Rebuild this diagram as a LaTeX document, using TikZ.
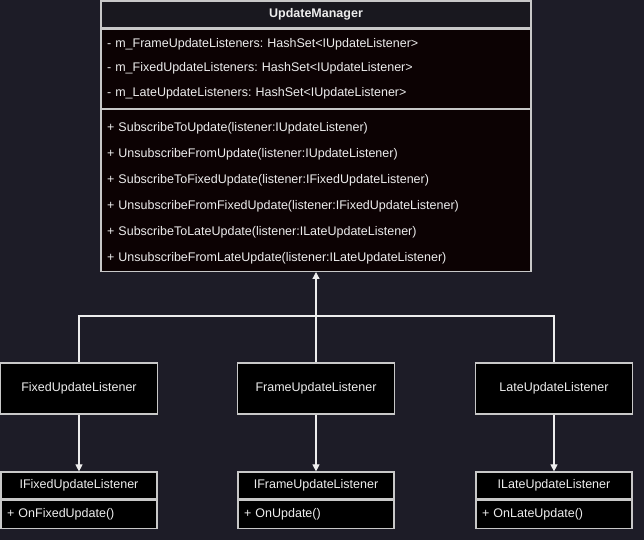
\documentclass[tikz,border=0pt]{standalone}
\usepackage{fontspec}
\setmainfont{Liberation Sans}
\usepackage{tikz}
\usetikzlibrary{calc,arrows.meta}
\usepackage{xcolor}
\definecolor{bg_navy}{HTML}{1D1C27}
\definecolor{head_dark}{HTML}{19181F}
\definecolor{body_dark}{HTML}{0C0203}
\definecolor{edge_grey}{HTML}{C8C8C8}
\definecolor{text_light}{HTML}{EDEDED}
\frenchspacing

\begin{document}
\begin{tikzpicture}[x=1pt, y=1pt,
	umlpart/.style={draw=edge_grey, line width=1.2pt, text=text_light, inner ysep=0pt, font=\fontsize{12.5}{15}\selectfont},
	umllist/.style={umlpart, fill=body_dark, align=left, inner xsep=6pt, text width=#1},
	wire/.style={draw=text_light, line width=1.2pt},
	tip/.style={wire, -{Triangle[length=7pt, width=7pt, fill=text_light]}}]
	\fill[bg_navy] (0, 0) rectangle (644, 540);
	\useasboundingbox (0, 0) rectangle (644, 540);
	% manager class
	\node[umlpart, fill=head_dark, minimum width=430, minimum height=27, font=\fontsize{12.5}{15}\selectfont\bfseries] (mgr) at (316, 525.5) {UpdateManager};
	\node[umllist=418, minimum height=79, anchor=north, font=\fontsize{12.5}{24.5}\selectfont] (mgrattr) at (mgr.south) {%
		- m\_FrameUpdateListeners: HashSet<IUpdateListener>\\
		- m\_FixedUpdateListeners: HashSet<IUpdateListener>\\
		- m\_LateUpdateListeners: HashSet<IUpdateListener>};
	\node[umllist=418, minimum height=162, anchor=north, font=\fontsize{12.5}{26}\selectfont] (mgrops) at (mgrattr.south) {%
		\rule{0pt}{4pt}\\[-15pt]
		+ SubscribeToUpdate(listener:IUpdateListener)\\
		+ UnsubscribeFromUpdate(listener:IUpdateListener)\\
		+ SubscribeToFixedUpdate(listener:IFixedUpdateListener)\\
		+ UnsubscribeFromFixedUpdate(listener:IFixedUpdateListener)\\
		+ SubscribeToLateUpdate(listener:ILateUpdateListener)\\
		+ UnsubscribeFromLateUpdate(listener:ILateUpdateListener)};
	% listeners
	\node[umlpart, fill=black, minimum width=157, minimum height=51] (fixed) at (79, 151.5) {FixedUpdateListener};
	\node[umlpart, fill=black, minimum width=157, minimum height=51] (frame) at (316, 151.5) {FrameUpdateListener};
	\node[umlpart, fill=black, minimum width=157, minimum height=51] (late) at (554, 151.5) {LateUpdateListener};
	% interfaces
	\node[umlpart, fill=black, minimum width=156, minimum height=27] (ifixed) at (79, 54.5) {IFixedUpdateListener};
	\node[umllist=144, fill=black, minimum height=28, anchor=north] (ifixedops) at (ifixed.south) {+ OnFixedUpdate()};
	\node[umlpart, fill=black, minimum width=156, minimum height=27] (iframe) at (316, 54.5) {IFrameUpdateListener};
	\node[umllist=144, fill=black, minimum height=28, anchor=north] (iframeops) at (iframe.south) {+ OnUpdate()};
	\node[umlpart, fill=black, minimum width=156, minimum height=27] (ilate) at (554, 54.5) {ILateUpdateListener};
	\node[umllist=144, fill=black, minimum height=28, anchor=north] (ilateops) at (ilate.south) {+ OnLateUpdate()};
	% connectors
	\coordinate (join) at (316, 224);
	\draw[wire] (fixed.north) |- (join);
	\draw[wire] (late.north) |- (join);
	\draw[tip] (frame.north) -- (mgrops.south);
	\draw[tip] (fixed.south) -- (ifixed.north);
	\draw[tip] (frame.south) -- (iframe.north);
	\draw[tip] (late.south) -- (ilate.north);
\end{tikzpicture}
\end{document}
